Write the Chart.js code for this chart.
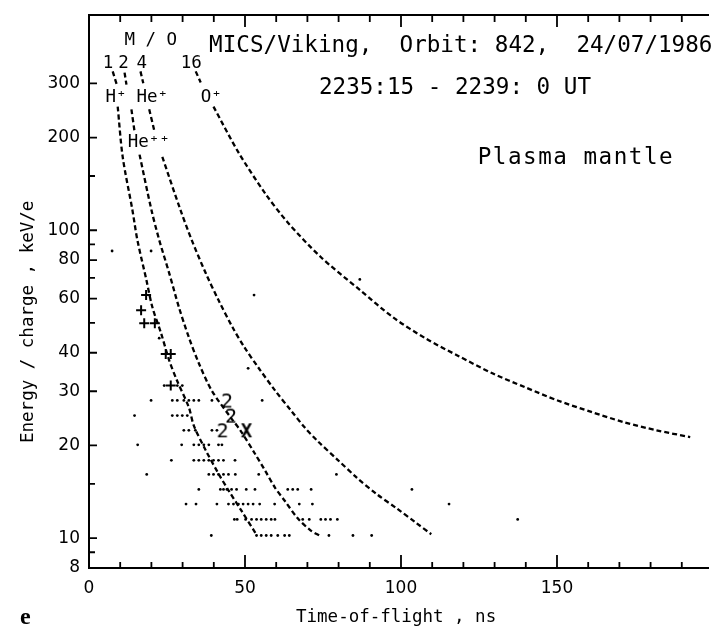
<!DOCTYPE html>
<html>
<head>
<meta charset="utf-8">
<style>
  html, body { margin: 0; padding: 0; background: #fff; }
  canvas { display: block; }
</style>
</head>
<body>
<canvas id="tof" width="715" height="628"></canvas>
<script src="https://cdn.jsdelivr.net/npm/chart.js@4.4.0/dist/chart.umd.min.js"></script>
<script>
  const MONO = '"DejaVu Sans Mono", monospace';

  // axis ticks
  const xTicks = [0, 10, 20, 30, 40, 50, 60, 70, 80, 90, 100, 110, 120, 130, 140, 150, 160, 170, 180, 190];
  const xLabels = [0, 50, 100, 150];
  const yTicks = [8, 9, 10, 15, 20, 30, 40, 50, 60, 70, 80, 90, 100, 150, 200, 300];
  const yLabels = [8, 10, 20, 30, 40, 60, 80, 100, 200, 300];

  // M/Q reference curves (ns, keV/e); null leaves a gap where a label sits
  const mq1T = [7.6, 8.9, 9.0, 9.2, 10.8, 13.9, 15.5, 18.4, 20.3, 23.1, 25.7, 28.2, 32.0, 33.6, 37.4, 41.5, 44.7, 48.8, 53.6];
  const mq1E = [328, 297, null, 252, 173, 116.5, 93, 68.9, 56.3, 46.3, 37.8, 32.5, 26.6, 23.2, 19.3, 16.2, 14.3, 12.3, 10.3];
  const mq2T = [11.4, 12.0, 12.8, 13.6, 14.6, 15.4, 16.2, 20.0, 22.5, 25.7, 28.8, 32.0, 35.2, 39.3, 45.6, 48.5, 53.2, 56.4, 59.6, 62.8, 66.9, 71.0, 73.9];
  const mq2E = [325, 297, null, 247, 209, null, 176, 116.5, 93, 72.6, 56.3, 44.9, 37.0, 30.2, 24.5, 22.4, 18.8, 16.6, 14.6, 13.2, 11.6, 10.6, 10.2];
  const mq4T = [16.5, 17.4, 18.3, 19.3, 20.9, 22.2, 23.5, 29.3, 32.9, 37.4, 41.5, 46.0, 49.8, 54.2, 59.6, 64.7, 69.1, 73.2, 79.6, 85.9, 92.2, 98.6, 104.9, 109.7];
  const mq4E = [328, 300, null, 247, 211, null, 173, 116.5, 93, 72.6, 59.3, 48.4, 41.7, 35.9, 30.2, 26.0, 22.9, 20.7, 18.0, 15.7, 13.9, 12.5, 11.2, 10.3];
  const mq16T = [34.2, 35.8, 37.8, 39.9, 47.9, 56.4, 63.7, 74.2, 86.8, 97.6, 108.1, 118.5, 129.3, 139.8, 150.2, 161.0, 171.5, 181.9, 192.7];
  const mq16E = [328, 302, null, 252, 179, 132, 106, 82, 64, 52, 44.4, 39.0, 34.3, 30.9, 28.0, 25.7, 23.8, 22.4, 21.3];

  // single counts: energy steps and the flight times seen at each step
  const stepE = [85.6, 69.2, 61.6, 44.6, 35.6, 31.3, 28.0, 25.0, 22.4, 20.1, 17.9, 16.1, 14.4, 12.9, 11.5, 10.2];
  const dotT = [
    [7.4, 19.9],
    [86.8],
    [52.9],
    [22.5],
    [51.0],
    [24.1, 28.3, 29.9],
    [19.9, 26.7, 28.3, 30.4, 32.0, 33.6, 35.2, 39.4, 55.5],
    [14.6, 26.7, 28.3, 29.9, 31.5],
    [30.4, 32.0, 34.1, 39.4, 41.0],
    [15.6, 29.7, 33.6, 35.2, 36.8, 38.4, 41.5, 42.6],
    [26.4, 33.6, 35.2, 36.8, 38.4, 39.9, 41.5, 43.1, 46.8],
    [18.5, 38.4, 39.9, 41.5, 43.1, 44.7, 46.9, 54.4, 79.3],
    [35.2, 42.1, 43.1, 44.2, 45.7, 47.3, 50.4, 53.2, 63.7, 65.3, 66.9, 71.2, 103.5],
    [31.1, 34.3, 41.0, 44.7, 46.3, 47.9, 49.4, 51.0, 52.6, 54.7, 59.5, 67.4, 71.6, 115.4],
    [46.6, 47.5, 50.2, 52.1, 53.7, 55.2, 56.8, 58.4, 59.6, 68.5, 70.6, 74.3, 75.8, 77.4, 79.6, 137.4],
    [39.2, 53.7, 55.2, 56.8, 58.4, 60.5, 62.7, 64.2, 76.9, 84.6, 90.6]
  ];

  // plotted symbols for multiple counts
  const plusT = [18.3, 16.7, 17.7, 21.1, 24.6, 26.2, 26.2];
  const plusE = [61.6, 55.0, 49.9, 49.9, 39.6, 39.6, 31.3];
  const twoT = [44.2, 45.5, 42.8];
  const twoE = [28.0, 25.0, 22.4];
  const crossT = [50.5];
  const crossE = [22.4];

  const pts = (t, e) => t.map((v, i) => ({x: v, y: e[i]}));
  const dotPts = stepE.flatMap((e, i) => dotT[i].map(t => ({x: t, y: e})));

  function glyph(ch, font, w, h) {
    const c = document.createElement('canvas');
    c.width = w; c.height = h;
    const g = c.getContext('2d');
    g.font = font;
    g.fillStyle = '#000';
    g.textAlign = 'center';
    g.textBaseline = 'alphabetic';
    g.fillText(ch, w / 2, h / 2 + 7);
    return c;
  }

  const curve = (label, t, e) => ({
    label, data: pts(t, e), showLine: true, spanGaps: false,
    borderColor: '#000', borderWidth: 2.3, borderDash: [5, 3], borderCapStyle: 'butt',
    pointRadius: 0, tension: 0.3, order: 2
  });

  const notes = [
    {text: 'M / O', t: 19.8, e: 400, align: 'center', size: 17.5},
    {text: '1', t: 6.1, e: 336, align: 'center', size: 17.5},
    {text: '2', t: 11.1, e: 336, align: 'center', size: 17.5},
    {text: '4', t: 16.9, e: 336, align: 'center', size: 17.5},
    {text: '16', t: 32.8, e: 336, align: 'center', size: 17.5},
    {text: 'H⁺', t: 5.3, e: 261.5, align: 'left', size: 17.5},
    {text: 'He⁺', t: 15.2, e: 261.5, align: 'left', size: 17.5},
    {text: 'He⁺⁺', t: 12.4, e: 186.8, align: 'left', size: 17.5},
    {text: 'O⁺', t: 35.8, e: 261.5, align: 'left', size: 17.5},
    {text: 'MICS/Viking,  Orbit: 842,  24/07/1986', t: 38.5, e: 379, align: 'left', size: 22.6},
    {text: '2235:15 - 2239: 0 UT', t: 73.7, e: 276, align: 'left', size: 22.6},
    {text: 'Plasma mantle', t: 124.6, e: 163.7, align: 'left', size: 22.6, spacing: 1.5}
  ];

  // ticks drawn inward from the frame, as on the plotter output
  const inwardTicks = {
    id: 'inwardTicks',
    afterDraw(chart) {
      const {ctx, chartArea: a, scales: {x, y}} = chart;
      ctx.save();
      ctx.strokeStyle = '#000';
      ctx.lineWidth = 1.8;
      ctx.beginPath();
      x.ticks.forEach(tk => {
        const px = x.getPixelForValue(tk.value);
        const major = xLabels.includes(tk.value);
        ctx.moveTo(px, a.bottom); ctx.lineTo(px, a.bottom - (major ? 13 : 6));
        if (tk.value > 0) { ctx.moveTo(px, a.top); ctx.lineTo(px, a.top + (major ? 12 : 7)); }
      });
      y.ticks.forEach(tk => {
        const py = y.getPixelForValue(tk.value);
        ctx.moveTo(a.left, py); ctx.lineTo(a.left + (yLabels.includes(tk.value) ? 8 : 6), py);
      });
      ctx.stroke();
      ctx.restore();
    }
  };

  const notesPlugin = {
    id: 'notes',
    afterDraw(chart) {
      const {ctx, chartArea: a, scales: {x, y}} = chart;
      ctx.save();
      ctx.fillStyle = '#000';
      ctx.textBaseline = 'alphabetic';
      notes.forEach(n => {
        ctx.font = n.size + 'px ' + MONO;
        ctx.textAlign = n.align;
        ctx.letterSpacing = (n.spacing || 0) + 'px';
        ctx.fillText(n.text, x.getPixelForValue(n.t), y.getPixelForValue(n.e));
      });
      ctx.letterSpacing = '0px';
      ctx.font = '17.5px ' + MONO;
      ctx.textAlign = 'left';
      ctx.fillText('Time-of-flight , ns', a.left + 207, a.bottom + 53.5);
      ctx.save();
      ctx.translate(a.left - 55.7, a.bottom - 125);
      ctx.rotate(-Math.PI / 2);
      ctx.fillText('Energy / charge , keV/e', 0, 0);
      ctx.restore();
      ctx.font = 'bold 24px "Liberation Serif", serif';
      ctx.fillText('e', 20, 624);
      ctx.restore();
    }
  };

  new Chart(document.getElementById('tof'), {
    type: 'scatter',
    data: {
      datasets: [
        {label: 'counts', data: dotPts, pointStyle: 'circle', pointRadius: 1.4,
         pointBackgroundColor: '#000', pointBorderWidth: 0, order: 1},
        {label: 'plus', data: pts(plusT, plusE), pointStyle: 'cross', pointRadius: 5,
         pointBorderColor: '#000', pointBorderWidth: 2, order: 1},
        {label: 'two', data: pts(twoT, twoE), pointStyle: glyph('2', '20px ' + MONO, 14, 20),
         pointRadius: 6, order: 1},
        {label: 'X', data: pts(crossT, crossE), pointStyle: glyph('X', 'bold 19px ' + MONO, 14, 20),
         pointRadius: 6, order: 1},
        curve('M/Q 1', mq1T, mq1E),
        curve('M/Q 2', mq2T, mq2E),
        curve('M/Q 4', mq4T, mq4E),
        curve('M/Q 16', mq16T, mq16E)
      ]
    },
    options: {
      responsive: false,
      animation: false,
      layout: {padding: {top: 15, right: 0, bottom: 0, left: 0}},
      plugins: {legend: {display: false}, tooltip: {enabled: false}},
      scales: {
        x: {
          type: 'linear', position: 'bottom', min: 0, max: 198.4,
          afterBuildTicks: s => { s.ticks = xTicks.map(v => ({value: v})); },
          afterFit: s => { s.height = 60; s.paddingLeft = 0; s.paddingRight = 0; },
          ticks: {callback: v => xLabels.includes(v) ? String(v) : '', autoSkip: false, maxRotation: 0,
                  padding: 10, color: '#000', font: {family: '"DejaVu Sans", sans-serif', size: 17}},
          grid: {display: false, drawTicks: false},
          border: {display: true, color: '#000', width: 2}
        },
        xTop: {
          type: 'linear', position: 'top', min: 0, max: 198.4,
          afterFit: s => { s.height = 0; },
          ticks: {display: false},
          grid: {display: false, drawTicks: false},
          border: {display: true, color: '#000', width: 2}
        },
        y: {
          type: 'logarithmic', position: 'left', min: 8, max: 500,
          afterBuildTicks: s => { s.ticks = yTicks.map(v => ({value: v})); },
          afterFit: s => { s.width = 89; s.paddingTop = 0; s.paddingBottom = 0; },
          ticks: {callback: v => yLabels.includes(v) ? String(v) : '', autoSkip: false,
                  padding: 9, color: '#000', font: {family: '"DejaVu Sans", sans-serif', size: 17}},
          grid: {display: false, drawTicks: false},
          border: {display: true, color: '#000', width: 2}
        }
      }
    },
    plugins: [inwardTicks, notesPlugin]
  });
</script>
</body>
</html>
